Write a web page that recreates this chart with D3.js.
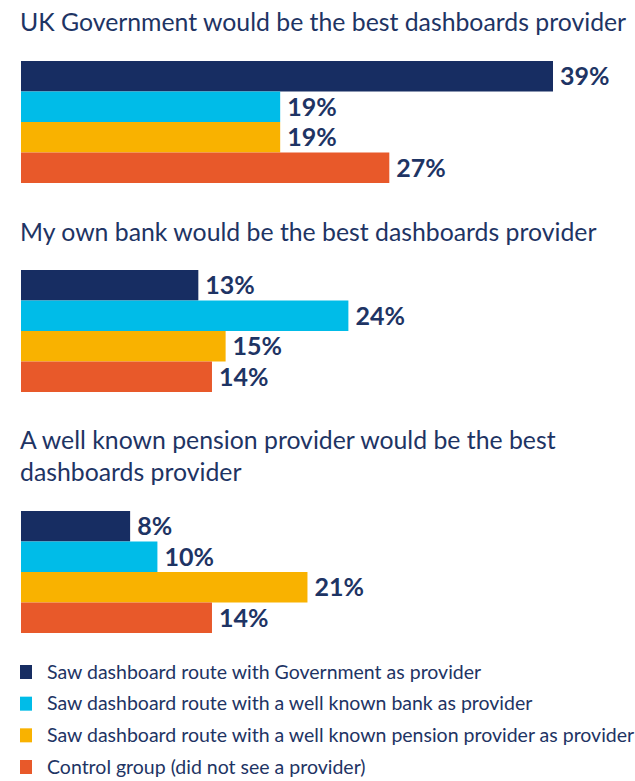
<!DOCTYPE html>
<html>
<head>
<meta charset="utf-8">
<script src="https://cdn.jsdelivr.net/npm/d3@7"></script>
<style>
  html, body { margin: 0; padding: 0; background: #ffffff; }
  svg { display: block; }
</style>
</head>
<body>
<svg id="chart" width="635" height="781"></svg>
<script>
// Survey groups (one bar per group in each panel)
const groups = [
  "Saw dashboard route with Government as provider",
  "Saw dashboard route with a well known bank as provider",
  "Saw dashboard route with a well known pension provider as provider",
  "Control group (did not see a provider)"
];
const groupColors = ["#172d62", "#00bce8", "#f9b200", "#e8592a"];

// Panel titles (each entry is a list of lines)
const panelTitles = [
  ["UK Government would be the best dashboards provider"],
  ["My own bank would be the best dashboards provider"],
  ["A well known pension provider would be the best", "dashboards provider"]
];

// Percentage agreeing, per panel, in group order
const govValues     = [39, 19, 19, 27];
const bankValues    = [13, 24, 15, 14];
const pensionValues = [8, 10, 21, 14];
const panelValues = [govValues, bankValues, pensionValues];

const textColor = "#1e3464";
const fontFamily = "'Source Sans Pro', Lato, 'Noto Sans', sans-serif";

const svg = d3.select("#chart");

// Shared horizontal scale for all panels
const x = d3.scaleLinear().domain([0, 39]).range([21, 553]);

// Panel layout: title baseline(s) and bar block top
const panels = [
  { titleY: [31], barTop: 61 },
  { titleY: [241], barTop: 270 },
  { titleY: [449, 481], barTop: 511 }
];
const blockHeight = 122;

panels.forEach((p, i) => {
  const g = svg.append("g");

  g.selectAll("text.title")
    .data(panelTitles[i])
    .join("text")
    .attr("class", "title")
    .attr("x", 20)
    .attr("y", (d, k) => p.titleY[k])
    .attr("fill", textColor)
    .attr("font-family", fontFamily)
    .attr("font-size", 24.8)
    .text(d => d);

  const y = d3.scaleBand()
    .domain(d3.range(groups.length))
    .range([p.barTop, p.barTop + blockHeight])
    .padding(0);

  const rows = panelValues[i].map((v, k) => ({ v, k }));

  g.selectAll("rect")
    .data(rows)
    .join("rect")
    .attr("x", x(0))
    .attr("y", d => y(d.k))
    .attr("width", d => x(d.v) - x(0))
    .attr("height", y.bandwidth())
    .attr("fill", d => groupColors[d.k]);

  g.selectAll("text.value")
    .data(rows)
    .join("text")
    .attr("class", "value")
    .attr("x", d => x(d.v) + 7)
    .attr("y", d => y(d.k) + y.bandwidth() / 2)
    .attr("dy", "0.36em")
    .attr("fill", textColor)
    .attr("font-family", fontFamily)
    .attr("font-weight", 700)
    .attr("font-size", 25)
    .text(d => d.v + "%");
});

// Legend
const legendY = d3.scalePoint().domain(d3.range(groups.length)).range([672, 767]);
const legend = svg.append("g");
const items = legend.selectAll("g")
  .data(groups)
  .join("g")
  .attr("transform", (d, k) => `translate(20, ${legendY(k)})`);

items.append("rect")
  .attr("x", 0)
  .attr("y", -7)
  .attr("width", 12)
  .attr("height", 14)
  .attr("fill", (d, k) => groupColors[k]);

items.append("text")
  .attr("x", 27)
  .attr("y", 0)
  .attr("dy", "0.35em")
  .attr("fill", textColor)
  .attr("font-family", fontFamily)
  .attr("font-size", 19.5)
  .text(d => d);
</script>
</body>
</html>
